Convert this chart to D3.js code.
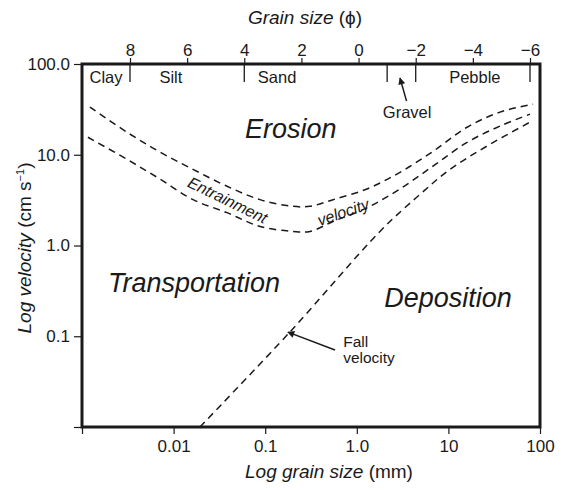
<!DOCTYPE html>
<html>
<head>
<meta charset="utf-8">
<script src="https://cdn.jsdelivr.net/npm/d3@7"></script>
<style>
body { margin: 0; background: #fff; }
svg { display: block; font-family: "Liberation Sans", Arial, Helvetica, sans-serif; }
</style>
</head>
<body>
<script>
// curves: grain size (mm) vs velocity (cm/s)
const upperGrain = [0.00122, 0.0031, 0.0071, 0.0163, 0.0383, 0.0877, 0.201, 0.308, 0.55, 1.29, 2.96, 6.8, 16, 36.6, 84];
const upperVel   = [33.5, 17.7, 10.7, 6.9, 4.5, 3.2, 2.7, 2.7, 3.2, 4.2, 6.4, 10.9, 20.1, 29.5, 36.1];
const lowerGrain = [0.00116, 0.0031, 0.0071, 0.0163, 0.0383, 0.0877, 0.201, 0.308, 0.55, 1.29, 2.96, 6.8, 16, 36.6, 77.8];
const lowerVel   = [15.6, 8.9, 5.4, 3.2, 2.3, 1.62, 1.43, 1.43, 1.84, 2.6, 4.2, 7.5, 13.7, 20.7, 28];
const fallGrain  = [0.0194, 0.187, 1.79, 4.9, 10.4, 25.1, 77.8];
const fallVel    = [0.01, 0.112, 1.43, 3.66, 6.9, 12.1, 22.9];

// axes
const xTicks = [0.001, 0.01, 0.1, 1, 10, 100];
const xTickLabels = ["", "0.01", "0.1", "1.0", "10", "100"];
const yTicks = [0.01, 0.1, 1, 10, 100];
const yTickLabels = ["", "0.1", "1.0", "10.0", "100.0"];
const phiTicks = [8, 6, 4, 2, 0, -2, -4, -6];
const phiBounds = [8, 4, -1, -2, -6];
const classNames = ["Clay", "Silt", "Sand", "Pebble"];
const classPhi = [8.84, 6.57, 2.85, -4.07];

const width = 565, height = 490;
const m = { left: 82, right: 540, top: 64, bottom: 427 };

const x = d3.scaleLog().domain([0.001, 100]).range([m.left, m.right]);
const y = d3.scaleLog().domain([0.01, 100]).range([m.bottom, m.top]);
const phi = d3.scaleLinear().domain([8, -6]).range([130, 530]);

const svg = d3.select("body").append("svg")
  .attr("width", width).attr("height", height);

const ink = "#1a1a1a";

svg.append("defs").append("marker")
  .attr("id", "arrow")
  .attr("viewBox", "0 0 10 10")
  .attr("refX", 9).attr("refY", 5)
  .attr("markerWidth", 10).attr("markerHeight", 7)
  .attr("markerUnits", "userSpaceOnUse")
  .attr("orient", "auto")
  .append("path").attr("d", "M0,0L10,5L0,10Z").attr("fill", ink);

// axes
const gx = svg.append("g")
  .attr("transform", `translate(0,${m.bottom})`)
  .call(d3.axisBottom(x).tickValues(xTicks).tickFormat((d, i) => xTickLabels[i]).tickSize(7).tickPadding(6));
const gy = svg.append("g")
  .attr("transform", `translate(${m.left},0)`)
  .call(d3.axisLeft(y).tickValues(yTicks).tickFormat((d, i) => yTickLabels[i]).tickSize(8).tickPadding(4));
const gt = svg.append("g")
  .attr("transform", `translate(0,${m.top})`)
  .call(d3.axisTop(phi).tickValues(phiTicks).tickFormat(d => d < 0 ? "\u2212" + (-d) : String(d)).tickSize(6).tickPadding(2));

[gx, gy, gt].forEach(g => {
  g.select(".domain").remove();
  g.selectAll(".tick line").attr("stroke", ink).attr("stroke-width", 1.2);
  g.selectAll(".tick text").attr("fill", ink).attr("font-size", 17);
  g.attr("font-family", null).attr("font-size", null);
});

// frame
svg.append("rect")
  .attr("x", m.left).attr("y", m.top)
  .attr("width", m.right - m.left).attr("height", m.bottom - m.top)
  .attr("fill", "none").attr("stroke", ink).attr("stroke-width", 3);

// class boundaries below the top axis
svg.append("g").selectAll("line")
  .data(phiBounds)
  .join("line")
  .attr("x1", d => phi(d)).attr("x2", d => phi(d))
  .attr("y1", m.top).attr("y2", m.top + 18)
  .attr("stroke", ink).attr("stroke-width", 1.3);

svg.append("g").selectAll("text")
  .data(classNames)
  .join("text")
  .attr("x", (d, i) => phi(classPhi[i]))
  .attr("y", m.top + 19)
  .attr("text-anchor", "middle")
  .attr("font-size", 16.5)
  .attr("fill", ink)
  .text(d => d);

// gravel note
svg.append("text")
  .attr("x", phi(-1.7)).attr("y", y(25.4))
  .attr("text-anchor", "middle").attr("font-size", 16.5).attr("fill", ink)
  .text("Gravel");
svg.append("line")
  .attr("x1", phi(-1.68)).attr("y1", y(39))
  .attr("x2", phi(-1.45)).attr("y2", y(70))
  .attr("stroke", ink).attr("stroke-width", 1.5)
  .attr("marker-end", "url(#arrow)");

// curves
const line = d3.line()
  .x(d => x(d[0])).y(d => y(d[1]))
  .curve(d3.curveCatmullRom.alpha(0.5));

const curves = [
  d3.zip(upperGrain, upperVel),
  d3.zip(lowerGrain, lowerVel),
  d3.zip(fallGrain, fallVel)
];

svg.append("g").selectAll("path")
  .data(curves)
  .join("path")
  .attr("d", line)
  .attr("fill", "none")
  .attr("stroke", ink)
  .attr("stroke-width", 1.5)
  .attr("stroke-dasharray", "7,5");

// region labels
const regions = [
  { text: "Erosion", g: 0.19, v: 15.3 },
  { text: "Transportation", g: 0.0167, v: 0.31 },
  { text: "Deposition", g: 9.9, v: 0.21 }
];
svg.append("g").selectAll("text")
  .data(regions)
  .join("text")
  .attr("x", d => x(d.g)).attr("y", d => y(d.v))
  .attr("text-anchor", "middle")
  .attr("font-size", 27)
  .attr("font-style", "italic")
  .attr("fill", ink)
  .text(d => d.text);

// curve labels
svg.append("text")
  .attr("transform", `translate(${x(0.039)},${y(3.17)}) rotate(26)`)
  .attr("text-anchor", "middle").attr("dy", "0.35em")
  .attr("font-size", 16).attr("font-style", "italic").attr("fill", ink)
  .text("Entrainment");
svg.append("text")
  .attr("transform", `translate(${x(0.71)},${y(2.34)}) rotate(-19)`)
  .attr("text-anchor", "middle").attr("dy", "0.35em")
  .attr("font-size", 16).attr("font-style", "italic").attr("fill", ink)
  .text("velocity");

const fall = svg.append("text")
  .attr("x", x(0.71)).attr("y", y(0.076))
  .attr("font-size", 15.5).attr("fill", ink);
fall.append("tspan").text("Fall");
fall.append("tspan").attr("x", x(0.71)).attr("dy", 16).text("velocity");
svg.append("line")
  .attr("x1", x(0.578)).attr("y1", y(0.0705))
  .attr("x2", x(0.177)).attr("y2", y(0.111))
  .attr("stroke", ink).attr("stroke-width", 1.5)
  .attr("marker-end", "url(#arrow)");

// titles
const tt = svg.append("text")
  .attr("x", 305).attr("y", 24)
  .attr("text-anchor", "middle").attr("font-size", 19).attr("fill", ink);
tt.append("tspan").attr("font-style", "italic").text("Grain size ");
tt.append("tspan").text("(\u03d5)");

const xt = svg.append("text")
  .attr("x", 329).attr("y", 478)
  .attr("text-anchor", "middle").attr("font-size", 19).attr("fill", ink);
xt.append("tspan").attr("font-style", "italic").text("Log grain size ");
xt.append("tspan").text("(mm)");

const yt = svg.append("text")
  .attr("transform", `translate(31,248) rotate(-90)`)
  .attr("text-anchor", "middle").attr("font-size", 19).attr("fill", ink);
yt.append("tspan").attr("font-style", "italic").text("Log velocity ");
yt.append("tspan").text("(cm s");
yt.append("tspan").attr("font-size", 11).attr("dy", -7).text("\u22121");
yt.append("tspan").attr("dy", 7).text(")");
</script>
</body>
</html>
